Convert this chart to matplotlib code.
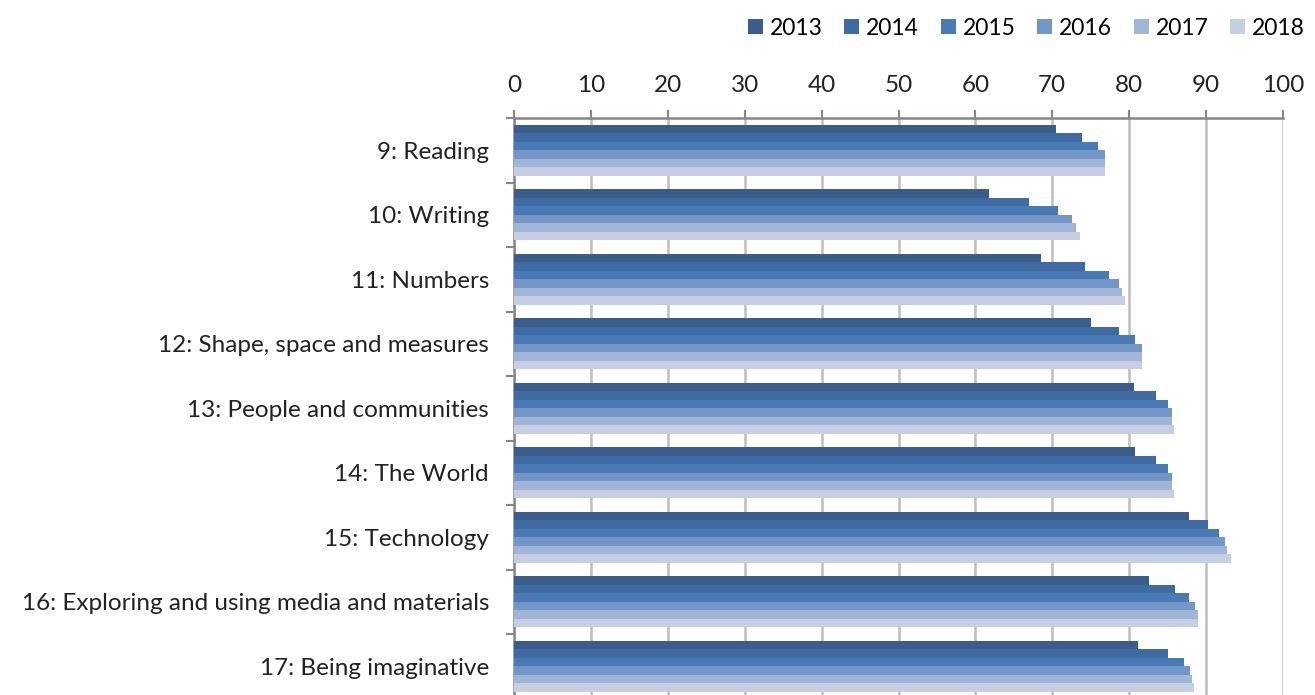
import numpy as np
import matplotlib
matplotlib.use('Agg')
import matplotlib.pyplot as plt
from matplotlib.ticker import MultipleLocator, FixedLocator

plt.rcParams['font.family'] = ['Lato', 'DejaVu Sans']

# Anteil der Kinder mit erreichtem Ziel je Bereich (%)
categories = [
    '9: Reading',
    '10: Writing',
    '11: Numbers',
    '12: Shape, space and measures',
    '13: People and communities',
    '14: The World',
    '15: Technology',
    '16: Exploring and using media and materials',
    '17: Being imaginative',
]
years = ['2013', '2014', '2015', '2016', '2017', '2018']

v2013 = [70.5, 61.8, 68.5, 75.0, 80.6, 80.8, 87.8, 82.6, 81.1]
v2014 = [73.8, 67.0, 74.2, 78.7, 83.5, 83.5, 90.3, 86.0, 85.0]
v2015 = [76.0, 70.7, 77.4, 80.8, 85.0, 85.0, 91.7, 87.8, 87.1]
v2016 = [76.9, 72.5, 78.7, 81.7, 85.6, 85.6, 92.5, 88.6, 87.9]
v2017 = [76.9, 73.1, 79.0, 81.7, 85.6, 85.6, 92.7, 88.9, 88.2]
v2018 = [76.9, 73.6, 79.4, 81.7, 85.8, 85.8, 93.2, 89.0, 88.4]
series = [v2013, v2014, v2015, v2016, v2017, v2018]

colors = ['#3A5E8C', '#3F6BA2', '#497AB5', '#7396C8', '#A1B5D7', '#C5CFE4']

fs = 17.5

fig = plt.figure(figsize=(13.15, 6.95), dpi=100)
W, H = 1315, 695
# Achsenbereich in Pixeln: links 514, rechts 1283, oben 118, unten knapp unter dem Bildrand
ax = fig.add_axes([514 / W, (H - 698.5) / H, (1283 - 514) / W, 580.5 / H])

y = np.arange(len(categories))
total = 0.79
h = total / len(series)
for i, (vals, col, yr) in enumerate(zip(series, colors, years)):
    offs = -total / 2 + h * (i + 0.5)
    ax.barh(y + offs, vals, height=h, color=col, label=yr, zorder=3, linewidth=0)

ax.set_xlim(0, 100)
ax.set_ylim(len(categories) - 0.5, -0.5)

ax.xaxis.set_major_locator(MultipleLocator(10))
ax.xaxis.tick_top()
ax.tick_params(axis='x', which='major', direction='out', length=6, width=1.5,
               color='#868686', labelsize=fs, pad=10, labelcolor='#222222')
ax.grid(axis='x', color='#BDBDBD', linewidth=1.8, zorder=0)

ax.set_yticks(y)
ax.set_yticklabels(categories)
ax.yaxis.set_minor_locator(FixedLocator(np.arange(len(categories) + 1) - 0.5))
ax.tick_params(axis='y', which='major', length=0, labelsize=fs, pad=18, labelcolor='#222222')
ax.tick_params(axis='y', which='minor', direction='out', length=6, width=1.5, color='#868686')

for side in ['right', 'bottom']:
    ax.spines[side].set_visible(False)
for side in ['top', 'left']:
    ax.spines[side].set_color('#868686')
    ax.spines[side].set_linewidth(1.8)

fig.legend(loc='upper right', bbox_to_anchor=(1.008, 1.004), ncol=6, frameon=False,
           fontsize=16.5, handlelength=0.65, handleheight=0.65, handletextpad=0.3,
           columnspacing=0.95, borderaxespad=0.5)

fig.savefig('out.png', dpi=100)
